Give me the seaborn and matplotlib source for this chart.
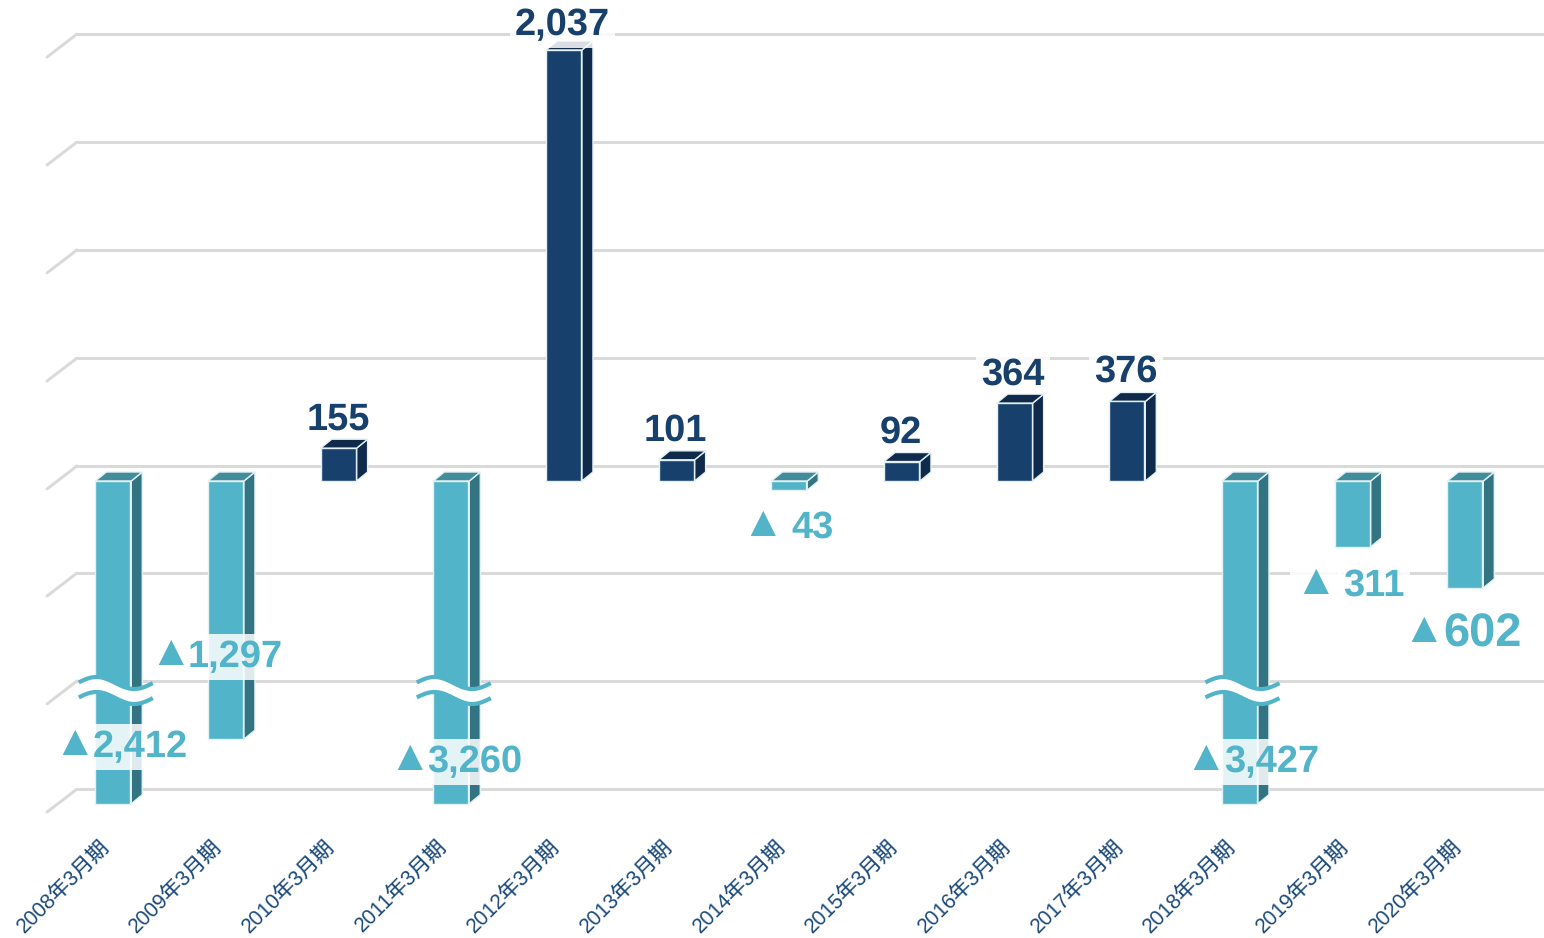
import numpy as np
import pandas as pd
import matplotlib
matplotlib.use('Agg')
import matplotlib.pyplot as plt
from matplotlib.transforms import ScaledTranslation
import seaborn as sns

# Dados
periodos = ['2008年3月期', '2009年3月期', '2010年3月期', '2011年3月期', '2012年3月期',
            '2013年3月期', '2014年3月期', '2015年3月期', '2016年3月期', '2017年3月期',
            '2018年3月期', '2019年3月期', '2020年3月期']
rotulos = ['2,412', '1,297', '155', '3,260', '2,037', '101', '43',
           '92', '364', '376', '3,427', '311', '602']
negativos = [True, True, False, True, False, False, True, False, False, False, True, True, True]
# altura desenhada (as barras longas estao cortadas, ver quebras)
alturas = [-1525, -1220, 155, -1525, 2037, 100, -43, 92, 368, 376, -1525, -311, -505]
niveis_grade = [2112, 1602, 1092, 581, 71, -435, -945, -1456]
quebras = ['2008年3月期', '2011年3月期', '2018年3月期']

TEAL = '#51B4C9'
NAVY = '#17406D'
faces = {'neg': (TEAL, '#337482', '#438C9B'), 'pos': (NAVY, '#102A4C', '#0F2A4A')}

# Escala em pixels
PX_CAT = 112.67
PX_VAL = 0.2116
Y_ZERO = 481
Y_BASE = 825


def dx(px):
    return px / PX_CAT


def dy(px):
    return px / PX_VAL


sns.set_theme(style='white')
plt.rcParams['font.family'] = ['Liberation Sans', 'Noto Sans CJK JP', 'DejaVu Sans']
plt.rcParams['text.hinting'] = 'no_hinting'
plt.rcParams['text.hinting_factor'] = 1

df = pd.DataFrame({'periodo': periodos, 'altura': alturas})
df['tipo'] = np.where(df['altura'] < 0, 'neg', 'pos')

fig = plt.figure(figsize=(15.44, 9.38), dpi=100)
ax = fig.add_axes([0, (938 - Y_BASE) / 938, 1, Y_BASE / 938])
sns.barplot(data=df, x='periodo', y='altura', hue='tipo', dodge=False, width=0.31,
            palette={k: v[0] for k, v in faces.items()}, legend=False,
            edgecolor='#E4F1F4', linewidth=1, saturation=1, ax=ax, zorder=3)

x_esq = -112.8 / PX_CAT
ax.set_xlim(x_esq, x_esq + 1544 / PX_CAT)
ax.set_ylim(dy(Y_ZERO - Y_BASE), dy(Y_ZERO))

# Grade com o "piso" em perspectiva
ax.hlines(niveis_grade, x_esq + dx(77), x_esq + dx(1544), color='#D9D9D9', lw=2.1, zorder=1)
for nivel in niveis_grade:
    ax.plot([x_esq + dx(47), x_esq + dx(77)], [nivel - dy(23), nivel], color='#D9D9D9', lw=2.1, zorder=1)

# Faces lateral e superior de cada barra
prof_x, prof_y = dx(11), dy(9)
for barra in list(ax.patches):
    x0, x1 = barra.get_x(), barra.get_x() + barra.get_width()
    y0, y1 = barra.get_y(), barra.get_y() + barra.get_height()
    if x0 != x0 or y0 == y1:
        continue
    topo, base = max(y0, y1), min(y0, y1)
    tipo = 'neg' if y1 < y0 or y0 < 0 else 'pos'
    x1 = x1 + dx(1)
    ax.fill([x1, x1 + prof_x, x1 + prof_x, x1],
            [topo, topo + prof_y, base + prof_y, base],
            color=faces[tipo][1], ec='#E4F1F4', lw=1, zorder=2.5)
    ax.fill([x0, x0 + prof_x, x1 + prof_x, x1],
            [topo, topo + prof_y, topo + prof_y, topo],
            color=faces[tipo][2], ec='#E4F1F4', lw=1, zorder=2.5)

# Simbolo de quebra
t = np.linspace(0, 1, 60)
onda = np.sin(2 * np.pi * t * 0.98 + 0.1)
for periodo in quebras:
    c = periodos.index(periodo) + dx(3)
    xs = c + dx(37) * (2 * t - 1)
    y_sup = dy(Y_ZERO - 683) + dy(6) * onda
    y_inf = y_sup - dy(15)
    ax.fill_between(xs, y_inf, y_sup, color='white', lw=0, zorder=4)
    ax.plot(xs, y_sup, color=TEAL, lw=3, zorder=5, solid_capstyle='butt')
    ax.plot(xs, y_inf, color=TEAL, lw=3, zorder=5, solid_capstyle='butt')

# Rotulos de valor (deslocamento em pixels a partir da barra)
desl_num = [(27, -266), (10, -176), (0, 61), (24, -281), (-1, 456), (-1, 50), (24, -47),
            (-1, 48), (-1, 106), (-1, 109), (32, -281), (22, -105), (18, -153)]
desl_tri = {0: (-38, -263), 1: (-55, -173), 3: (-41, -278), 6: (-26, -44),
            10: (-34, -278), 11: (-37, -102), 12: (-41, -150)}
for i, (texto, desl) in enumerate(zip(rotulos, desl_num)):
    cor = TEAL if negativos[i] else NAVY
    # so o 2,037 cobre a barra; os outros rotulos azuis ficam atras dela
    ordem = 6 if negativos[i] or periodos[i] == '2012年3月期' else 2
    ax.annotate(texto, xy=(i, 0), xytext=desl, textcoords='offset pixels', ha='center', va='center',
                fontsize=34 if periodos[i] == '2020年3月期' else 27, fontweight='bold', color=cor, zorder=ordem,
                bbox=dict(boxstyle='square,pad=0.14', fc='white', ec='none', alpha=0.85))
for i, desl in desl_tri.items():
    caixa = dict(boxstyle='square,pad=0.1', fc='white', ec='none', alpha=0.85) if periodos[i] == '2019年3月期' else None
    ax.annotate('▲', xy=(i, 0), xytext=desl, textcoords='offset pixels', ha='center', va='center',
                fontsize=31, fontweight='bold', color=TEAL, zorder=6, bbox=caixa)

ax.set_xlabel('')
ax.set_ylabel('')
ax.set_yticks([])
ax.set_xticks(range(len(periodos)))
ax.set_xticklabels(periodos, rotation=45, ha='right', rotation_mode='anchor', fontsize=15.2, color='#1B4A7A')
ax.tick_params(axis='x', length=0, pad=8.5)
for rotulo in ax.get_xticklabels():
    rotulo.set_transform(rotulo.get_transform() + ScaledTranslation(-0.135, 0, fig.dpi_scale_trans))
sns.despine(ax=ax, left=True, bottom=True)

fig.savefig('out.png', dpi=100)
